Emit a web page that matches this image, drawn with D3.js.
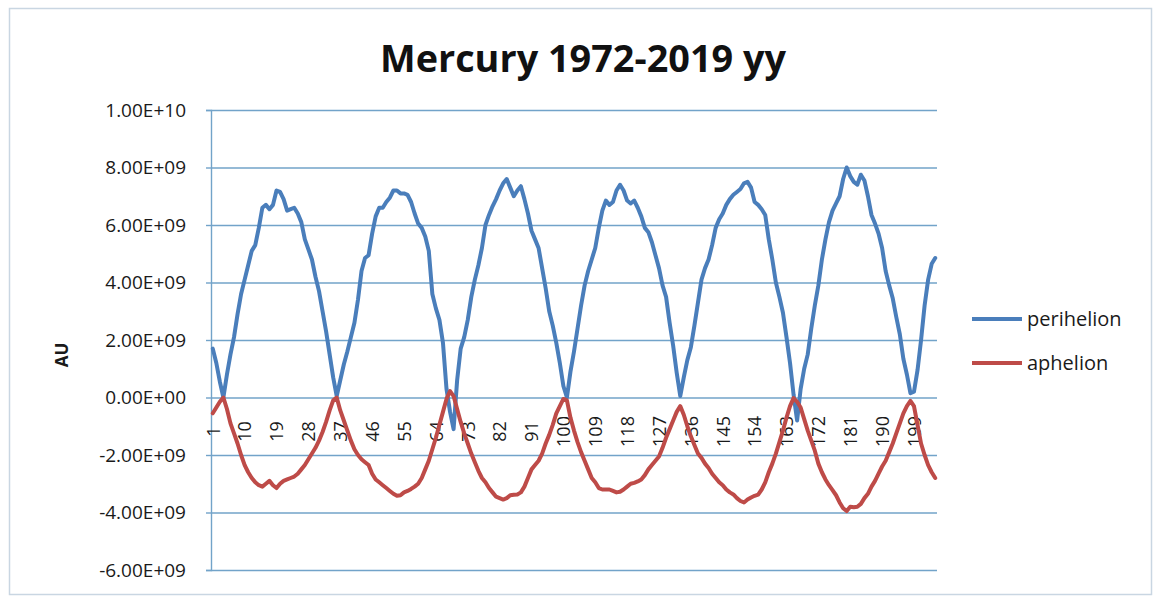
<!DOCTYPE html>
<html><head><meta charset="utf-8">
<script src="https://cdn.jsdelivr.net/npm/d3@7"></script>
<style>
body{margin:0;background:#fff}
text{font-family:"Open Sans","Liberation Sans",sans-serif}
</style>
</head><body>
<svg id="chart" width="1158" height="597"></svg>
<script>
// ---- data ----
const titleText = "Mercury 1972-2019 yy";
const yAxisTitle = "AU";
const seriesNames = ["perihelion", "aphelion"];
const seriesColors = ["#4A7EBB", "#BE4B48"];
const categories = d3.range(1, 206); // 1..205
const xTickLabels = [1, 10, 19, 28, 37, 46, 55, 64, 73, 82, 91, 100, 109, 118, 127, 136, 145, 154, 163, 172, 181, 190, 199];
const yTicks = [1e10, 8e9, 6e9, 4e9, 2e9, 0, -2e9, -4e9, -6e9];
const yTickLabels = ["1.00E+10", "8.00E+09", "6.00E+09", "4.00E+09", "2.00E+09", "0.00E+00", "-2.00E+09", "-4.00E+09", "-6.00E+09"];
// values in units of 1e9
const perihelion = [
 1.7, 1.2, 0.55, 0.0, 0.8, 1.5, 2.1, 2.9, 3.6, 4.1,
 4.6, 5.1, 5.3, 5.9, 6.6, 6.7, 6.55, 6.7, 7.2, 7.15,
 6.9, 6.5, 6.55, 6.6, 6.4, 6.1, 5.5, 5.15, 4.8, 4.2,
 3.7, 3.0, 2.3, 1.5, 0.7, 0.05, 0.6, 1.15, 1.6, 2.1,
 2.6, 3.4, 4.4, 4.85, 4.95, 5.7, 6.3, 6.6, 6.6, 6.8,
 6.95, 7.2, 7.2, 7.1, 7.1, 7.05, 6.8, 6.4, 6.05, 5.9,
 5.6, 5.1, 3.6, 3.1, 2.7, 1.9, 0.3, -0.5, -1.1, 0.6,
 1.7, 2.1, 2.7, 3.5, 4.1, 4.6, 5.2, 6.0, 6.35, 6.65,
 6.9, 7.2, 7.45, 7.6, 7.3, 7.0, 7.2, 7.35, 6.9, 6.4,
 5.8, 5.5, 5.2, 4.5, 3.8, 3.0, 2.5, 1.9, 1.2, 0.4,
 0.0, 0.9, 1.6, 2.4, 3.2, 3.9, 4.4, 4.8, 5.2, 5.9,
 6.5, 6.85, 6.7, 6.8, 7.2, 7.4, 7.2, 6.85, 6.75, 6.85,
 6.6, 6.3, 5.9, 5.75, 5.4, 4.95, 4.5, 3.9, 3.5, 2.6,
 1.8, 0.86, 0.05, 0.7, 1.3, 1.75, 2.5, 3.3, 4.1, 4.5,
 4.8, 5.3, 5.9, 6.2, 6.4, 6.7, 6.9, 7.05, 7.15, 7.25,
 7.45, 7.5, 7.3, 6.8, 6.7, 6.55, 6.35, 5.5, 4.8, 4.0,
 3.5, 2.95, 2.1, 1.2, 0.1, -0.8, 0.3, 1.0, 1.5, 2.4,
 3.2, 3.9, 4.8, 5.5, 6.1, 6.5, 6.75, 7.0, 7.6, 8.0,
 7.7, 7.5, 7.4, 7.75, 7.55, 7.0, 6.35, 6.05, 5.7, 5.2,
 4.4, 3.9, 3.45, 2.8, 2.2, 1.35, 0.8, 0.15, 0.2, 0.95,
 2.0, 3.2, 4.1, 4.65, 4.85
];
const aphelion = [
 -0.55, -0.35, -0.15, 0.0, -0.4, -0.9, -1.25, -1.6, -2.0, -2.35,
 -2.6, -2.8, -2.95, -3.05, -3.1, -3.0, -2.9, -3.05, -3.15, -3.0,
 -2.9, -2.85, -2.8, -2.75, -2.65, -2.5, -2.35, -2.15, -1.95, -1.75,
 -1.5, -1.2, -0.85, -0.45, -0.1, 0.0, -0.45, -0.8, -1.15, -1.5,
 -1.8, -2.0, -2.15, -2.25, -2.35, -2.65, -2.85, -2.95, -3.05, -3.15,
 -3.25, -3.35, -3.42, -3.4, -3.3, -3.25, -3.18, -3.1, -3.0, -2.8,
 -2.5, -2.2, -1.8, -1.4, -0.95, -0.5, -0.05, 0.22, 0.05, -0.4,
 -0.85, -1.25, -1.6, -1.95, -2.25, -2.55, -2.8, -2.95, -3.15, -3.3,
 -3.45, -3.5, -3.55, -3.5, -3.4, -3.38, -3.37, -3.3, -3.1, -2.8,
 -2.5, -2.35, -2.2, -1.95, -1.6, -1.3, -0.95, -0.55, -0.3, -0.05,
 -0.1, -0.7, -1.15, -1.55, -1.9, -2.2, -2.5, -2.8, -2.95, -3.15,
 -3.2, -3.2, -3.2, -3.25, -3.3, -3.28, -3.2, -3.1, -3.0, -2.97,
 -2.92, -2.85, -2.7, -2.5, -2.35, -2.2, -2.05, -1.75, -1.4, -1.1,
 -0.8, -0.5, -0.3, -0.6, -1.0, -1.35, -1.65, -1.95, -2.1, -2.3,
 -2.45, -2.65, -2.8, -2.95, -3.05, -3.2, -3.3, -3.37, -3.5, -3.6,
 -3.65, -3.55, -3.48, -3.42, -3.38, -3.2, -2.95, -2.6, -2.3, -1.95,
 -1.55, -1.15, -0.7, -0.3, -0.02, -0.15, -0.35, -0.75, -1.15, -1.5,
 -1.85, -2.3, -2.6, -2.85, -3.05, -3.22, -3.4, -3.65, -3.85, -3.95,
 -3.8, -3.82, -3.8, -3.7, -3.5, -3.35, -3.1, -2.9, -2.65, -2.4,
 -2.2, -1.9, -1.6, -1.25, -0.9, -0.55, -0.3, -0.12, -0.3, -0.95,
 -1.6, -2.0, -2.35, -2.6, -2.8
];
const SCALE = 1e9;

// ---- layout ----
const svg = d3.select("#chart");
const plot = {left: 211, right: 937, top: 110, bottom: 570};
const gridColor = "#72a3c9";
const textColor = "#1a1a1a";

svg.append("rect").attr("width", 1158).attr("height", 597).attr("fill", "#fff");
svg.append("rect").attr("x", 9.5).attr("y", 8.5).attr("width", 1142).attr("height", 586)
  .attr("fill", "none").attr("stroke", "#c9d6e2").attr("stroke-width", 1.5);

const x = d3.scalePoint().domain(categories).range([plot.left, plot.right]).padding(0.5);
const y = d3.scaleLinear().domain([-6e9, 1e10]).range([plot.bottom, plot.top]);

// gridlines
const grid = svg.append("g").attr("transform", `translate(${plot.left},0)`)
  .call(d3.axisLeft(y).tickValues(yTicks).tickSize(-(plot.right - plot.left)).tickFormat(""));
grid.select(".domain").remove();
grid.selectAll("line").attr("stroke", gridColor).attr("stroke-width", 1.4);

// y axis
const yAxis = svg.append("g").attr("transform", `translate(${plot.left},0)`)
  .call(d3.axisLeft(y).tickValues(yTicks).tickSize(5).tickPadding(20)
    .tickFormat(d => yTickLabels[yTicks.indexOf(d)]));
yAxis.select(".domain").attr("stroke", gridColor).attr("stroke-width", 1.4);
yAxis.selectAll("line").attr("stroke", gridColor).attr("stroke-width", 1.4);
yAxis.selectAll("text").attr("font-size", 19).attr("fill", textColor)
  .attr("font-family", "'Open Sans', sans-serif");

// x axis at zero
const xAxis = svg.append("g").attr("transform", `translate(0,${y(0)})`)
  .call(d3.axisBottom(x).tickValues(xTickLabels).tickSize(0));
xAxis.select(".domain").remove();
xAxis.selectAll("text")
  .attr("font-size", 18).attr("fill", textColor)
  .attr("transform", "rotate(-90)")
  .attr("text-anchor", "middle")
  .attr("x", -34).attr("y", 0).attr("dy", "0.35em");

// lines
const line = d3.line().x((d, i) => x(categories[i])).y(d => y(d * SCALE));
[perihelion, aphelion].forEach((s, k) => {
  svg.append("path").datum(s).attr("d", line).attr("fill", "none")
    .attr("stroke", seriesColors[k]).attr("stroke-width", 4)
    .attr("stroke-linejoin", "round").attr("stroke-linecap", "round");
});

// title
svg.append("text").attr("x", 583).attr("y", 72).attr("text-anchor", "middle")
  .attr("font-size", 38).attr("font-weight", "bold").attr("fill", "#111")
  .attr("textLength", 406).attr("lengthAdjust", "spacingAndGlyphs")
  .text(titleText);

// y axis title
svg.append("text").attr("transform", "translate(68,355) rotate(-90)")
  .attr("text-anchor", "middle").attr("font-size", 17).attr("font-weight", "bold")
  .attr("fill", textColor).text(yAxisTitle);

// legend
const legendY = [319, 363];
seriesNames.forEach((n, k) => {
  svg.append("line").attr("x1", 972).attr("x2", 1022).attr("y1", legendY[k]).attr("y2", legendY[k])
    .attr("stroke", seriesColors[k]).attr("stroke-width", 4);
  svg.append("text").attr("x", 1027).attr("y", legendY[k] + 7).attr("font-size", 20)
    .attr("fill", textColor).text(n);
});
</script>
</body></html>
